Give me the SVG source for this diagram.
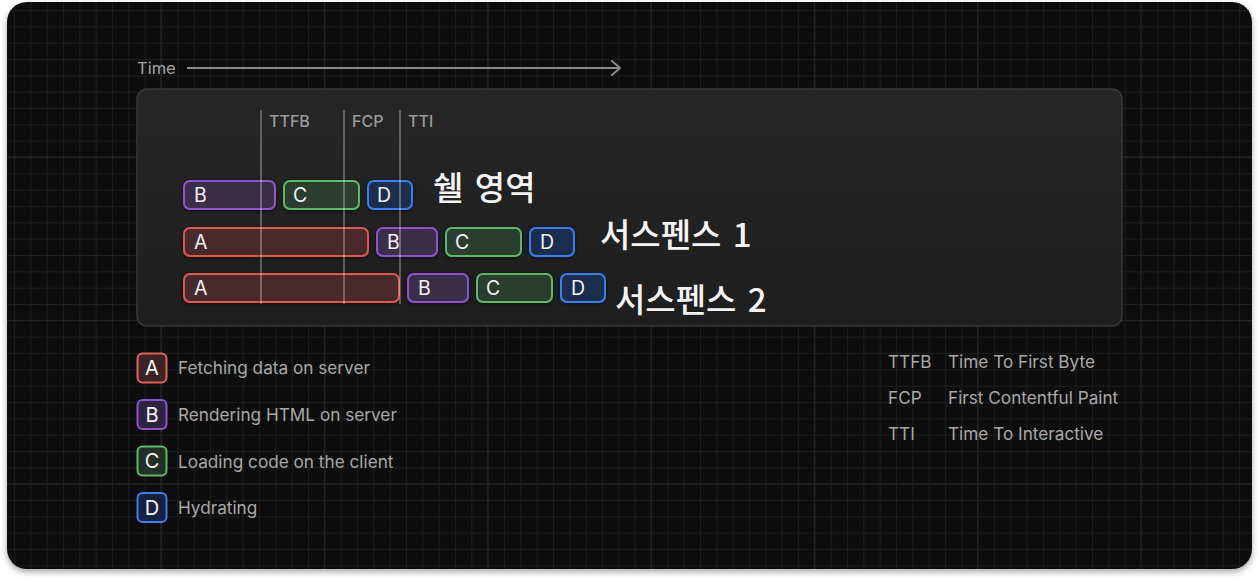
<svg xmlns="http://www.w3.org/2000/svg" width="1258" height="580" viewBox="0 0 1258 580">
  <defs>
    <pattern id="gridMinor" patternUnits="userSpaceOnUse" x="14" y="10" width="16.333" height="16.333">
      <rect x="0" y="0" width="16.333" height="1" fill="#1d1d1d"/>
      <rect x="0" y="0" width="1" height="16.333" fill="#1d1d1d"/>
    </pattern>
    <pattern id="gridMajor" patternUnits="userSpaceOnUse" x="160.5" y="156.5" width="163.33" height="163.33">
      <rect x="0" y="0" width="163.33" height="1" fill="#262626"/>
      <rect x="0" y="0" width="1" height="163.33" fill="#262626"/>
    </pattern>
    <linearGradient id="panelGrad" x1="0" y1="0" x2="0" y2="1">
      <stop offset="0" stop-color="#262626"/>
      <stop offset="1" stop-color="#1e1e1e"/>
    </linearGradient>
    <filter id="outerShadow" x="-5%" y="-5%" width="110%" height="115%">
      <feDropShadow dx="0" dy="3" stdDeviation="3" flood-color="#000" flood-opacity="0.35"/>
    </filter>
    <filter id="barShadow" x="-20%" y="-40%" width="140%" height="180%">
      <feDropShadow dx="0" dy="1" stdDeviation="2" flood-color="#000" flood-opacity="0.6"/>
    </filter>
    <clipPath id="outerClip">
      <rect x="7" y="2" width="1245" height="567" rx="20"/>
    </clipPath>
    <marker id="chev" viewBox="0 0 10 16" refX="9" refY="8" markerWidth="10" markerHeight="16" markerUnits="userSpaceOnUse" orient="auto">
      <path d="M1 1 L9 8 L1 15" fill="none" stroke="#8a8a8a" stroke-width="2" stroke-linecap="round" stroke-linejoin="round"/>
    </marker>
    <style>
      .lbl { font-family: Inter, "Liberation Sans", sans-serif; }
      .axis { font-size: 16.5px; fill: #a6a6a6; }
      .mark { font-size: 16px; font-weight: 500; fill: #9a9a9a; }
      .barTxt { font-size: 19.5px; fill: #f2f2f2; }
      .legTxt { font-size: 17.2px; fill: #a8a8a8; }
      .legLetter { font-size: 20px; fill: #f4f4f4; text-anchor: middle; }
      .kr { font-family: "Noto Sans CJK KR", Inter, sans-serif; font-size: 33px; font-weight: 500; fill: #f4f4f4; word-spacing: 4px; }
      .bar { stroke-width: 2; filter: url(#barShadow); }
      .A { fill: #4a2b2b; stroke: #e0594f; }
      .B { fill: #3b2d4a; stroke: #9153d1; }
      .C { fill: #2c3d2e; stroke: #5fb868; }
      .D { fill: #1e2f4d; stroke: #3b7ff2; }
      .vline { stroke: #ffffff; stroke-opacity: 0.28; stroke-width: 2; }
    </style>
  </defs>

  <rect x="0" y="0" width="1258" height="580" fill="#ffffff"/>

  <g id="background">
    <rect x="7" y="2" width="1245" height="567" rx="20" fill="#111111" filter="url(#outerShadow)"/>
    <g clip-path="url(#outerClip)">
      <rect x="7" y="2" width="1245" height="567" fill="url(#gridMinor)"/>
      <rect x="7" y="2" width="1245" height="567" fill="url(#gridMajor)"/>
    </g>
  </g>

  <g id="time-axis">
    <text class="lbl axis" x="137" y="74">Time</text>
  </g>

  <g id="panel">
    <rect x="137" y="89" width="985" height="237" rx="10" fill="url(#panelGrad)" stroke="#3a3a3a" stroke-width="1.5"/>
  </g>

  <g id="row-shell">
    <rect class="bar B" x="184" y="181" width="91" height="28" rx="6"/>
    <text class="lbl barTxt" x="194" y="202">B</text>
    <rect class="bar C" x="284" y="181" width="75" height="28" rx="6"/>
    <text class="lbl barTxt" x="293" y="202">C</text>
    <rect class="bar D" x="368" y="181" width="44" height="28" rx="6"/>
    <text class="lbl barTxt" x="377" y="202">D</text>
    <text class="kr" x="433" y="200">쉘 영역</text>
  </g>

  <g id="row-suspense-1">
    <rect class="bar A" x="184" y="228" width="184" height="28" rx="6"/>
    <text class="lbl barTxt" x="194" y="249">A</text>
    <rect class="bar B" x="377" y="228" width="60" height="28" rx="6"/>
    <text class="lbl barTxt" x="387" y="249">B</text>
    <rect class="bar C" x="446" y="228" width="75" height="28" rx="6"/>
    <text class="lbl barTxt" x="455" y="249">C</text>
    <rect class="bar D" x="530" y="228" width="44" height="28" rx="6"/>
    <text class="lbl barTxt" x="540" y="249">D</text>
    <text class="kr" x="600" y="247">서스펜스 1</text>
  </g>

  <g id="row-suspense-2">
    <rect class="bar A" x="184" y="274" width="215" height="28" rx="6"/>
    <text class="lbl barTxt" x="194" y="295">A</text>
    <rect class="bar B" x="408" y="274" width="60" height="28" rx="6"/>
    <text class="lbl barTxt" x="418" y="295">B</text>
    <rect class="bar C" x="477" y="274" width="75" height="28" rx="6"/>
    <text class="lbl barTxt" x="486" y="295">C</text>
    <rect class="bar D" x="561" y="274" width="44" height="28" rx="6"/>
    <text class="lbl barTxt" x="571" y="295">D</text>
    <text class="kr" x="615" y="312">서스펜스 2</text>
  </g>

  <g id="markers">
    <text class="lbl mark" x="269" y="127">TTFB</text>
    <text class="lbl mark" x="352" y="127">FCP</text>
    <text class="lbl mark" x="408" y="127">TTI</text>
  </g>

  <g id="connectors">
    <line x1="187" y1="68" x2="620" y2="68" stroke="#8a8a8a" stroke-width="2" marker-end="url(#chev)"/>
    <line class="vline" x1="261" y1="110" x2="261" y2="304"/>
    <line class="vline" x1="344" y1="110" x2="344" y2="304"/>
    <line class="vline" x1="400" y1="110" x2="400" y2="304"/>
  </g>

  <g id="legend-A">
    <rect x="137.5" y="353.5" width="29" height="29" rx="5" fill="#3a2222" stroke="#e4605a" stroke-width="2"/>
    <text class="lbl legLetter" x="152" y="375">A</text>
    <text class="lbl legTxt" x="178" y="374">Fetching data on server</text>
  </g>
  <g id="legend-B">
    <rect x="137.5" y="400" width="29" height="29" rx="5" fill="#2e2440" stroke="#9153d1" stroke-width="2"/>
    <text class="lbl legLetter" x="152" y="421.5">B</text>
    <text class="lbl legTxt" x="178" y="421">Rendering HTML on server</text>
  </g>
  <g id="legend-C">
    <rect x="137.5" y="446.5" width="29" height="29" rx="5" fill="#213225" stroke="#5fb868" stroke-width="2"/>
    <text class="lbl legLetter" x="152" y="468">C</text>
    <text class="lbl legTxt" x="178" y="467.5">Loading code on the client</text>
  </g>
  <g id="legend-D">
    <rect x="137.5" y="493" width="29" height="29" rx="5" fill="#16223f" stroke="#3b7ff2" stroke-width="2"/>
    <text class="lbl legLetter" x="152" y="514.5">D</text>
    <text class="lbl legTxt" x="178" y="514">Hydrating</text>
  </g>

  <g id="glossary">
    <text class="lbl legTxt" x="888" y="368">TTFB</text>
    <text class="lbl legTxt" x="948" y="368">Time To First Byte</text>
    <text class="lbl legTxt" x="888" y="404">FCP</text>
    <text class="lbl legTxt" x="948" y="404">First Contentful Paint</text>
    <text class="lbl legTxt" x="888" y="440">TTI</text>
    <text class="lbl legTxt" x="948" y="440">Time To Interactive</text>
  </g>
</svg>
